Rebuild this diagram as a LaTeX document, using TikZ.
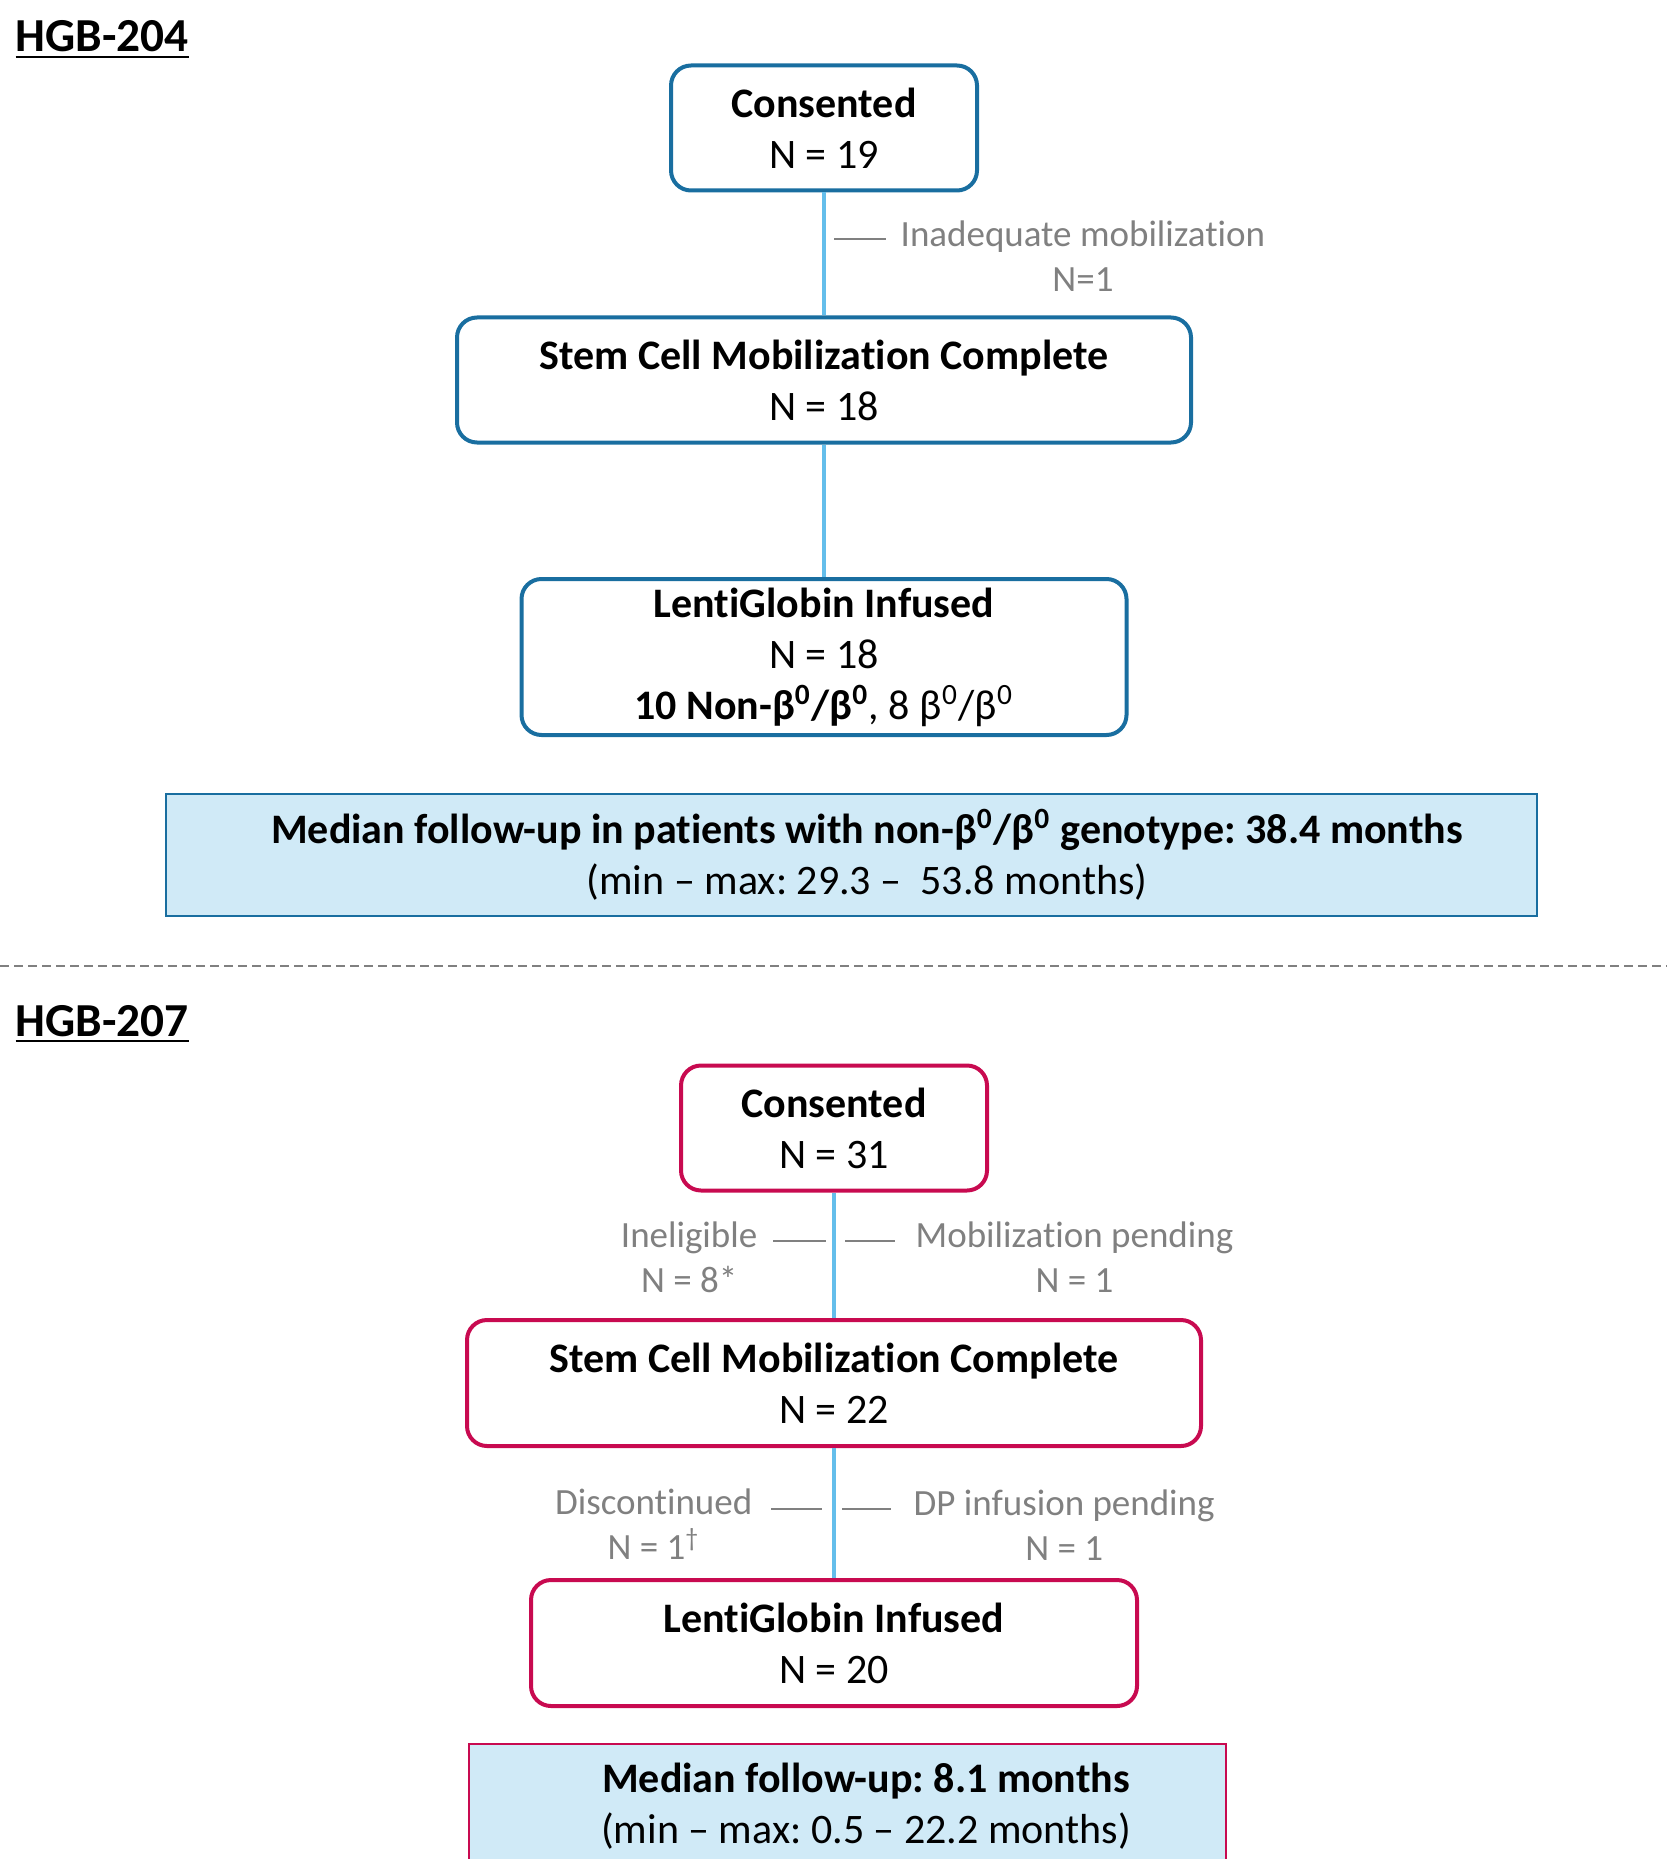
\documentclass[tikz,border=0pt]{standalone}
\usepackage{fontspec}
\setmainfont[Ligatures=NoCommon]{Carlito}
\usetikzlibrary{calc}
\frenchspacing

\definecolor{boxblue}{RGB}{25,110,160}
\definecolor{boxred}{RGB}{200,10,80}
\definecolor{linkblue}{RGB}{100,190,235}
\definecolor{fillblue}{RGB}{208,234,247}
\definecolor{labelgray}{RGB}{128,128,128}

\tikzset{
  stagebox/.style={draw, line width=1.2pt, rounded corners=6pt, fill=white,
    align=center, inner sep=0pt, font=\fontsize{12.6}{15.3}\selectfont},
  infobox/.style={draw, line width=0.6pt, fill=fillblue, inner sep=0pt},
  infotext/.style={align=center, inner sep=0pt, font=\fontsize{12.6}{15.3}\selectfont},
  link/.style={draw=linkblue, line width=1.2pt},
  sidedash/.style={draw=labelgray, line width=0.8pt},
  droplabel/.style={align=center, inner sep=0pt, text=labelgray,
    font=\fontsize{11.1}{13.5}\selectfont},
  studytitle/.style={anchor=base west, inner sep=0pt,
    font=\bfseries\fontsize{14.2}{17}\selectfont}
}

\begin{document}
\begin{tikzpicture}[x=0.3pt, y=-0.3pt]
		%%%%% START %%%%%
		\useasboundingbox (0,0) rectangle (1667,1859);
		
		% first study
		\node[studytitle] (t204) at (15,52) {\underline{HGB-204}};
		
		\node[stagebox, draw=boxblue, minimum width=91.8pt, minimum height=37.5pt] (cons1) at (824,128) {\textbf{Consented}\\N = 19};
		\node[stagebox, draw=boxblue, minimum width=220.2pt, minimum height=37.5pt] (mob1) at (824,380) {\textbf{Stem Cell Mobilization Complete}\\N = 18};
		\node[stagebox, draw=boxblue, minimum width=181.5pt, minimum height=46.8pt] (inf1) at (824,657) {\textbf{LentiGlobin Infused}\\N = 18\\\textbf{10 Non-β\textsuperscript{0}/β\textsuperscript{0}}, 8 β\textsuperscript{0}/β\textsuperscript{0}};
		
		\draw[link] (cons1) -- (mob1);
		\draw[link] (mob1) -- (inf1);
		
		\coordinate (d1a) at (834,239);
		\coordinate (d1b) at (886,239);
		\draw[sidedash] (d1a) -- (d1b);
		\node[droplabel, anchor=west] (inad1) at (900,256) {Inadequate mobilization\\N=1};
		
		\node[infobox, draw=boxblue, minimum width=411.3pt, minimum height=36.6pt] (fu1) at (851,855) {};
		\node[infotext] (fu1txt) at (867,855) {\textbf{Median follow-up in patients with non-β\textsuperscript{0}/β\textsuperscript{0} genotype: 38.4 months}\\(min – max: 29.3 –~ 53.8 months)};
		
		% separator
		\draw[labelgray, line width=0.6pt, dash pattern=on 2.7pt off 1.5pt] (0,966) -- (1667,966);
		
		% second study
		\node[studytitle] (t207) at (15,1036) {\underline{HGB-207}};
		
		\node[stagebox, draw=boxred, minimum width=91.8pt, minimum height=37.5pt] (cons2) at (834,1128) {\textbf{Consented}\\N = 31};
		\node[stagebox, draw=boxred, minimum width=220.2pt, minimum height=37.8pt] (mob2) at (834,1383) {\textbf{Stem Cell Mobilization Complete}\\N = 22};
		\node[stagebox, draw=boxred, minimum width=181.8pt, minimum height=37.8pt] (inf2) at (834,1643) {\textbf{LentiGlobin Infused}\\N = 20};
		
		\draw[link] (cons2) -- (mob2);
		\draw[link] (mob2) -- (inf2);
		
		\coordinate (d2a) at (773,1241);
		\coordinate (d2b) at (826,1241);
		\coordinate (d2c) at (845,1241);
		\coordinate (d2d) at (895,1241);
		\draw[sidedash] (d2a) -- (d2b);
		\draw[sidedash] (d2c) -- (d2d);
		\node[droplabel, anchor=east] (inel2) at (758,1257) {Ineligible\\N = 8*};
		\node[droplabel, anchor=west] (pend2) at (915,1257) {Mobilization pending\\N = 1};
		
		\coordinate (d3a) at (771,1509);
		\coordinate (d3b) at (822,1509);
		\coordinate (d3c) at (842,1509);
		\coordinate (d3d) at (891,1509);
		\draw[sidedash] (d3a) -- (d3b);
		\draw[sidedash] (d3c) -- (d3d);
		\node[droplabel, anchor=east] (disc2) at (753,1524) {Discontinued\\N = 1\textsuperscript{†}};
		\node[droplabel, anchor=west] (dpp2) at (913,1525) {DP infusion pending\\N = 1};
		
		\node[infobox, draw=boxred, minimum width=227.1pt, minimum height=40.8pt] (fu2) at (847,1812) {};
		\node[infotext] (fu2txt) at (866,1806) {\textbf{Median follow-up: 8.1 months}\\(min – max: 0.5 – 22.2 months)};
		%%%%% END %%%%%
\end{tikzpicture}
\end{document}
